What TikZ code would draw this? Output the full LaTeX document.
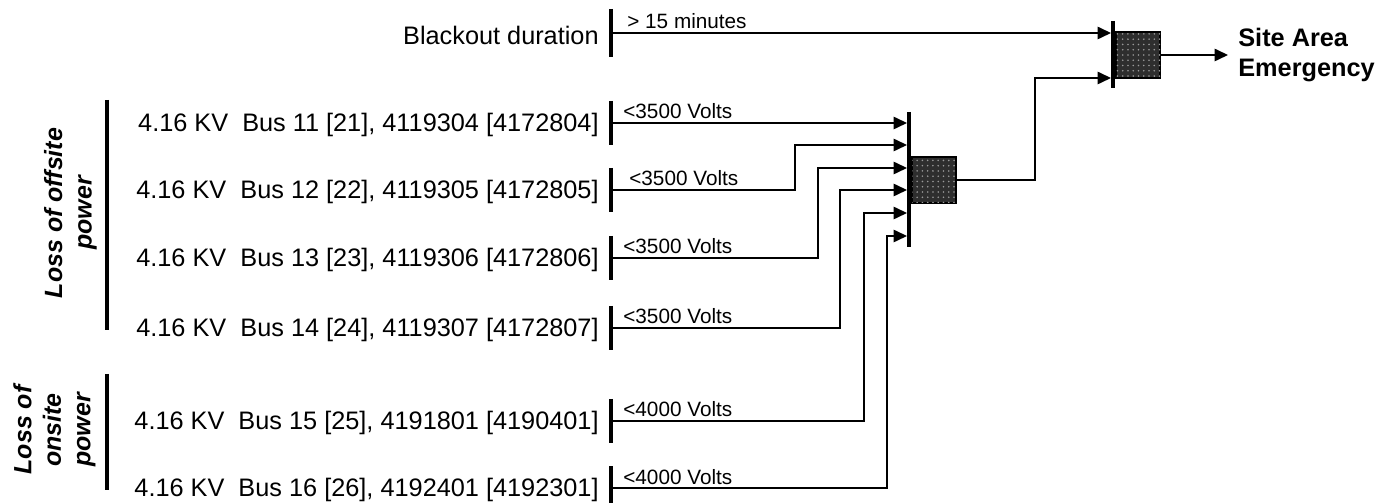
\documentclass[tikz,border=0pt]{standalone}
\usepackage{fontspec}
\setmainfont{Liberation Sans}
\usetikzlibrary{arrows.meta,patterns}

\tikzset{
    busname/.style={anchor=east, inner sep=0pt, font=\fontsize{14.4}{17}\selectfont},
    limit/.style={anchor=base west, inner sep=0pt, font=\fontsize{11.8}{14}\selectfont},
    group/.style={rotate=90, align=center, inner sep=0pt, font=\fontsize{14.2}{16.8}\selectfont\bfseries\itshape},
    rowtick/.style={line width=2.1pt},
    feed/.style={line width=0.9pt, -{Triangle[length=0.27cm, width=0.25cm]}},
    gatebar/.style={line width=2.3pt},
    gatebox/.style={draw, line width=0.8pt, fill=black!82, minimum width=0.88cm, minimum height=0.92cm, inner sep=0pt,
        postaction={pattern=dots, pattern color=white!60!black}},
}

\begin{document}
\begin{tikzpicture}[x=0.02cm, y=-0.02cm]
    \useasboundingbox (0,0) rectangle (1394,503);

    \node[group] (offsite) at (70.5,213) {Loss of offsite\\power};
    \node[group] (onsite) at (54.5,430) {Loss of\\onsite\\power};
    \draw[rowtick] (107,100) -- (107,330);
    \draw[rowtick] (107,374) -- (107,490);

    \node[busname] (blackout) at (599,35) {Blackout duration};
    \node[busname] (bus11) at (599,125) {4.16 KV~~Bus 11 [21], 4119304 [4172804]};
    \node[busname] (bus12) at (599,192) {4.16 KV~~Bus 12 [22], 4119305 [4172805]};
    \node[busname] (bus13) at (599,260) {4.16 KV~~Bus 13 [23], 4119306 [4172806]};
    \node[busname] (bus14) at (599,330) {4.16 KV~~Bus 14 [24], 4119307 [4172807]};
    \node[busname] (bus15) at (599,423) {4.16 KV~~Bus 15 [25], 4191801 [4190401]};
    \node[busname] (bus16) at (599,490) {4.16 KV~~Bus 16 [26], 4192401 [4192301]};

    \draw[rowtick] (611,9) -- (611,57);
    \draw[rowtick] (611,101) -- (611,145);
    \draw[rowtick] (611,168) -- (611,212);
    \draw[rowtick] (611,236) -- (611,280);
    \draw[rowtick] (611,306) -- (611,350);
    \draw[rowtick] (611,399) -- (611,443);
    \draw[rowtick] (611,466) -- (611,503);
    \coordinate (r0) at (611,33);
    \coordinate (r1) at (611,123);
    \coordinate (r2) at (611,190);
    \coordinate (r3) at (611,258);
    \coordinate (r4) at (611,328);
    \coordinate (r5) at (611,421);
    \coordinate (r6) at (611,488);

    \node[limit] (dur) at (627,29) {> 15 minutes};
    \node[limit] (v11) at (623,119) {<3500 Volts};
    \node[limit] (v12) at (629,186) {<3500 Volts};
    \node[limit] (v13) at (623,254) {<3500 Volts};
    \node[limit] (v14) at (623,324) {<3500 Volts};
    \node[limit] (v15) at (623,417) {<4000 Volts};
    \node[limit] (v16) at (623,484) {<4000 Volts};

    \draw[gatebar] (909,112) -- (909,247);
    \node[gatebox] (g2) at (934,180) {};
    \coordinate (g2a) at (907,123);
    \coordinate (g2b) at (907,145);
    \coordinate (g2c) at (907,168);
    \coordinate (g2d) at (907,190);
    \coordinate (g2e) at (907,213);
    \coordinate (g2f) at (907,236);

    \draw[gatebar] (1113,21) -- (1113,88);
    \node[gatebox] (g1) at (1138,55) {};
    \coordinate (g1a) at (1111,33);
    \coordinate (g1b) at (1111,78);

    \node[anchor=west, align=left, inner sep=0pt, font=\fontsize{14.4}{17}\selectfont\bfseries] (sae) at (1238,55) {Site Area\\Emergency};

    \draw[feed] (r1) -- (g2a);
    \draw[feed] (r2) -| (795,145) -- (g2b);
    \draw[feed] (r3) -| (818,168) -- (g2c);
    \draw[feed] (r4) -| (840,190) -- (g2d);
    \draw[feed] (r5) -| (864,213) -- (g2e);
    \draw[feed] (r6) -| (887,236) -- (g2f);

    \draw[feed] (r0) -- (g1a);
    \draw[feed] (g2.east) -| (1035,78) -- (g1b);
    \draw[feed, shorten >=0.2cm] (g1.east) -- (sae.west);
\end{tikzpicture}
\end{document}
